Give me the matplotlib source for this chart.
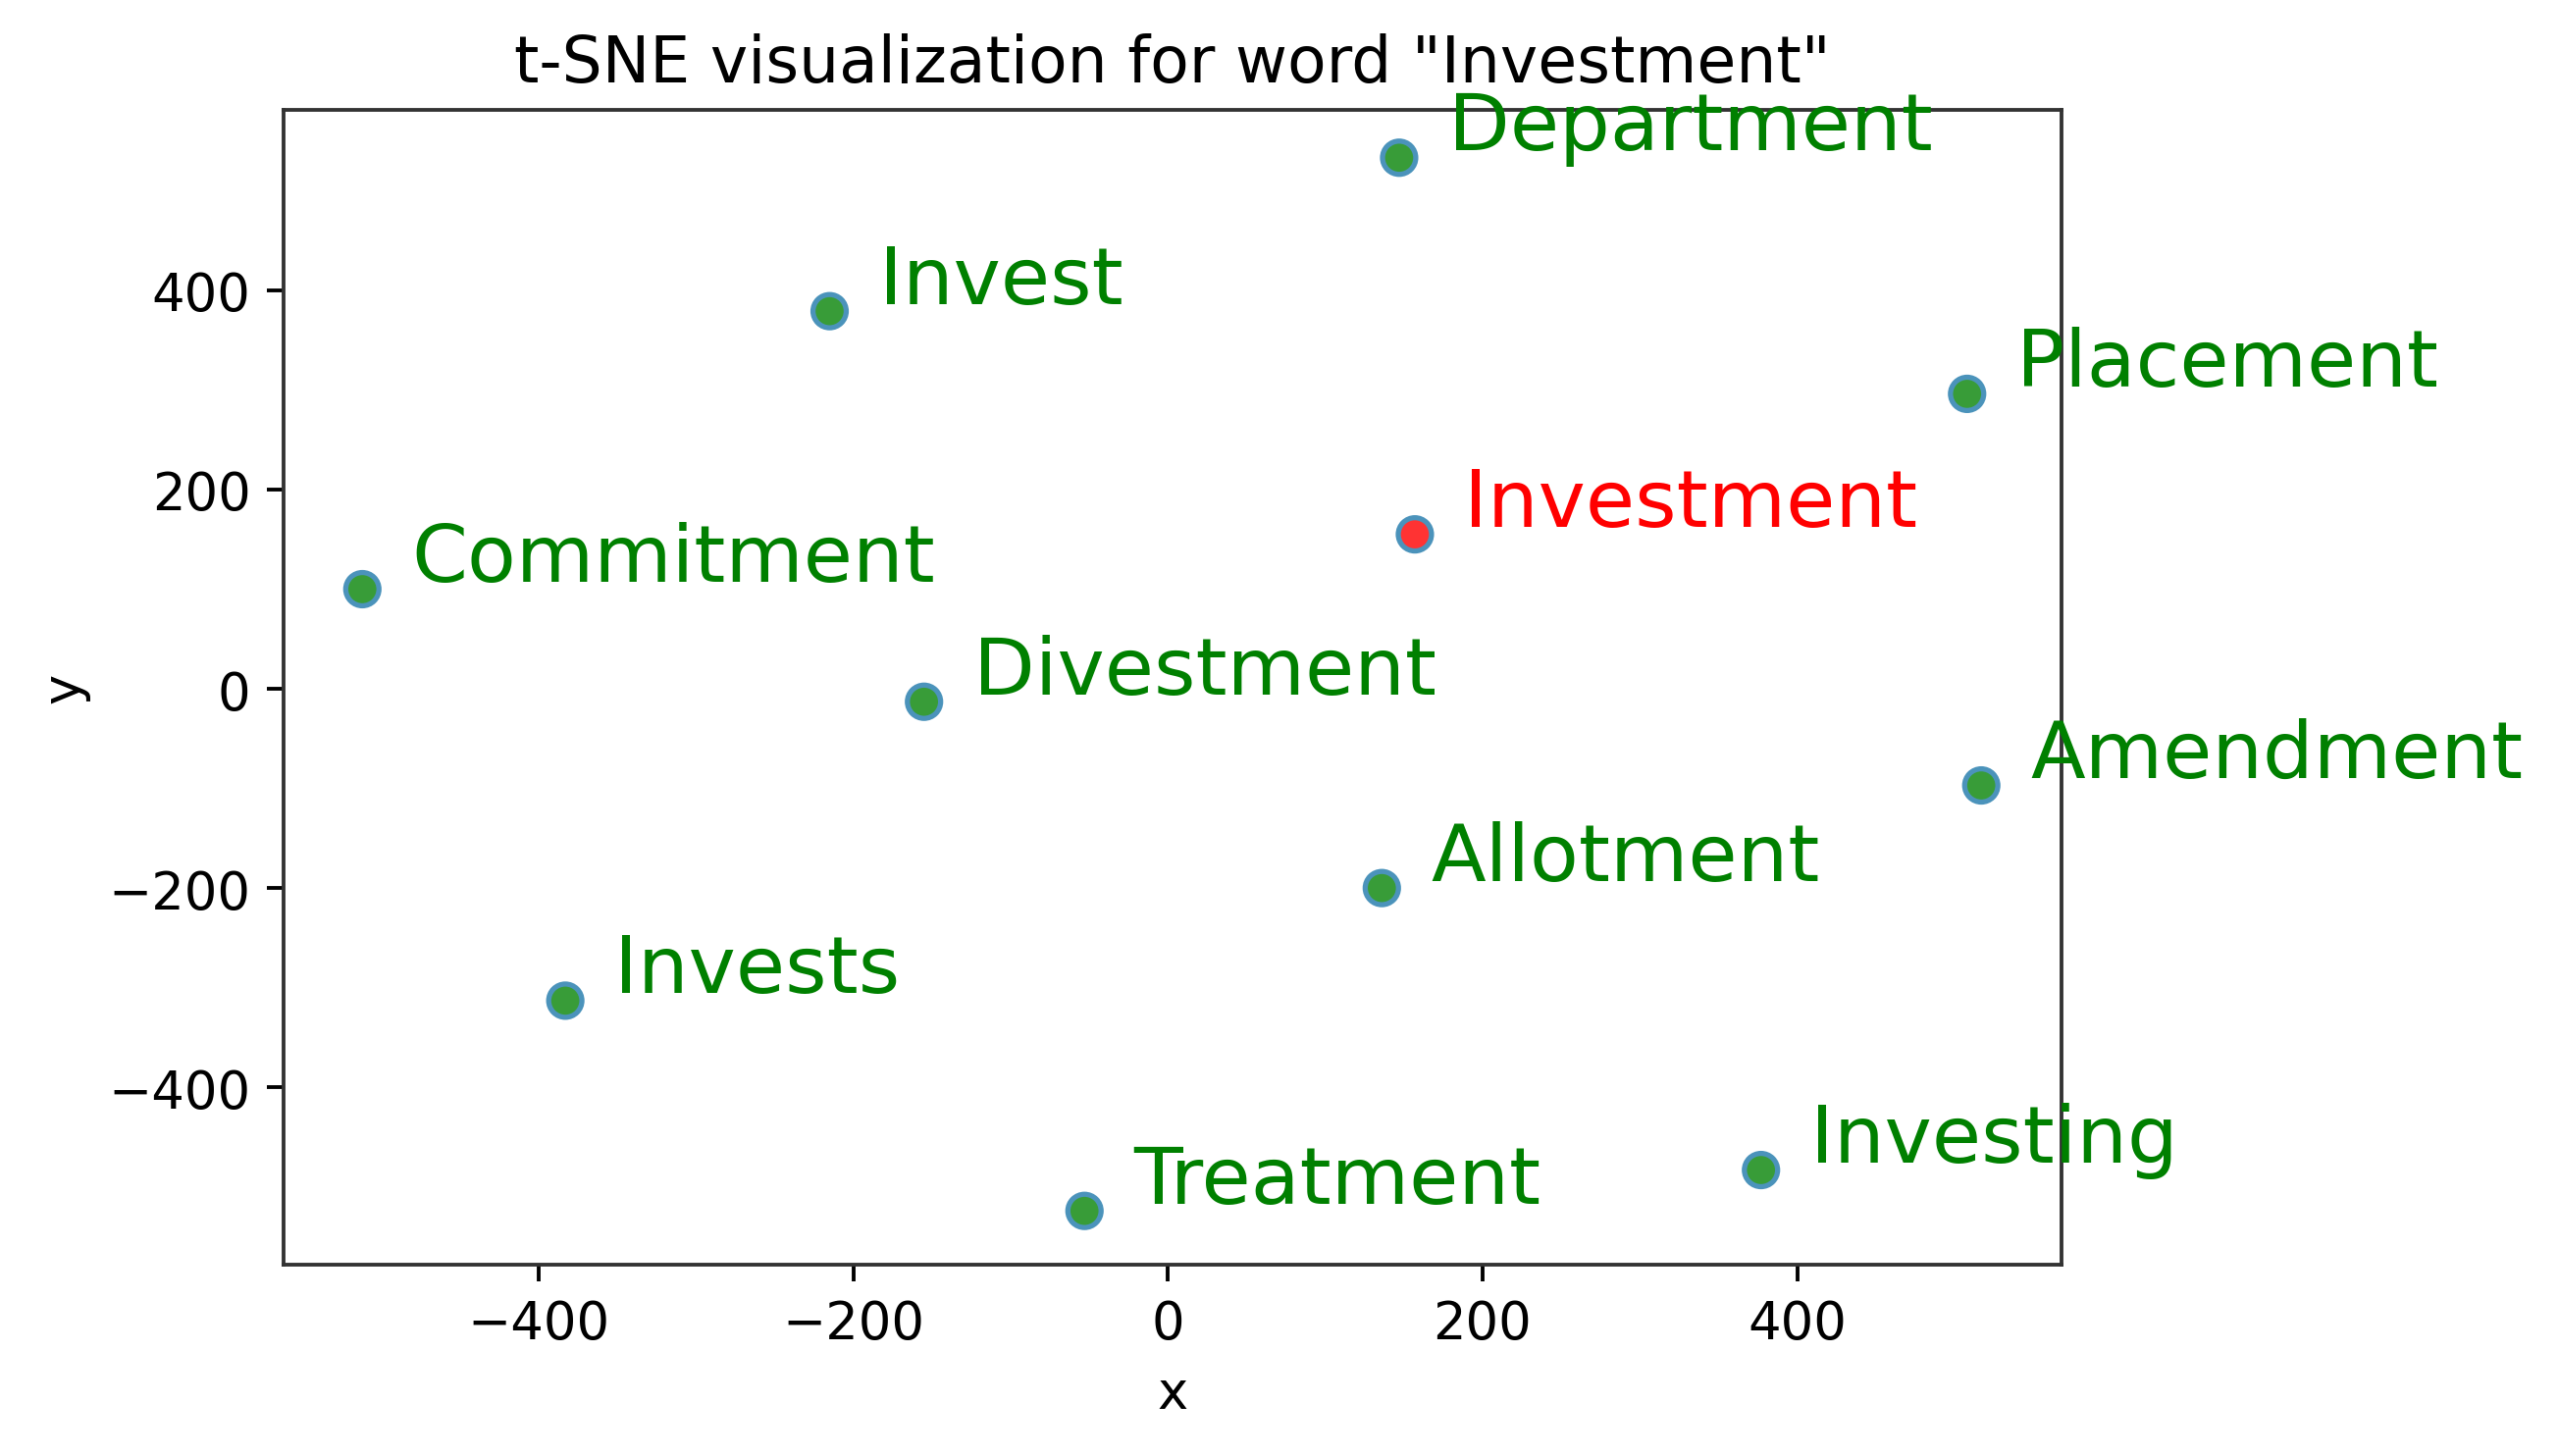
import matplotlib
matplotlib.use("Agg")
import matplotlib.pyplot as plt

words = ["Department", "Invest", "Placement", "Investment", "Commitment",
         "Divestment", "Amendment", "Allotment", "Invests", "Treatment", "Investing"]
xs = [147, -215, 508, 157, -512, -155, 517, 136, -383, -53, 377]
ys = [533, 379, 296, 155, 100, -13, -97, -200, -313, -524, -483]
target = "Investment"

DPI = 345
fig = plt.figure(figsize=(2607 / DPI, 1485 / DPI), dpi=DPI)
ax = fig.add_axes([0.1109, 0.1313, 0.8059 - 0.1109, 0.9239 - 0.1313])

face = ["#ff3333" if w == target else "#389c38" for w in words]
ax.scatter(xs, ys, s=50, c=face, edgecolors="#4b93bb", linewidths=1.1, zorder=3)

for w, x, y in zip(words, xs, ys):
    ax.annotate(w, xy=(x, y), xytext=(10.5, 1.8), textcoords="offset points",
                fontsize=17, color="red" if w == target else "green",
                va="baseline", ha="left", annotation_clip=False)

ax.set_xlim(-562, 568)
ax.set_ylim(-578, 581)
ax.set_xticks([-400, -200, 0, 200, 400])
ax.set_yticks([-400, -200, 0, 200, 400])
ax.tick_params(labelsize=11)
ax.set_xlabel("x", fontsize=11)
ax.set_ylabel("y", fontsize=11)
ax.set_title('t-SNE visualization for word "Investment"', fontsize=13.5)
for sp in ax.spines.values():
    sp.set_color("#333333")

fig.savefig("out.png", dpi=DPI)
